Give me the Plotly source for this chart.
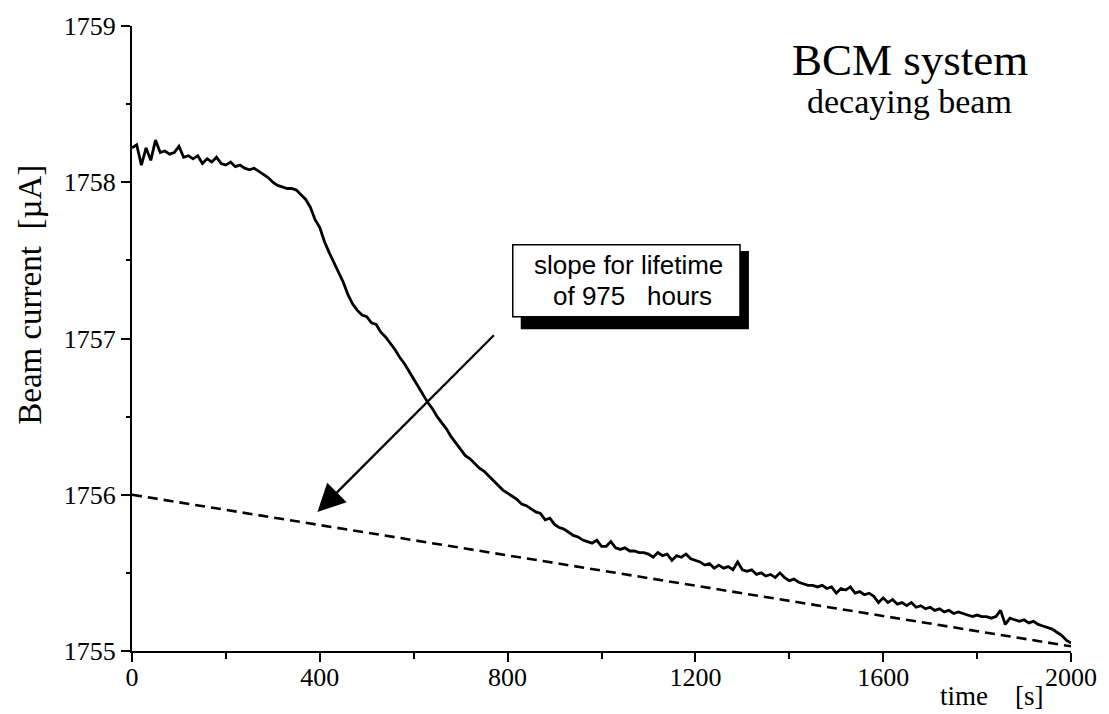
import plotly.graph_objects as go

# ---- data ----
time_s = list(range(0, 2001, 10))
beam_current = [
    1758.22, 1758.24, 1758.11, 1758.22, 1758.14, 1758.27, 1758.19, 1758.20, 1758.18, 1758.19,
    1758.23, 1758.16, 1758.17, 1758.15, 1758.17, 1758.12, 1758.15, 1758.13, 1758.16, 1758.12,
    1758.11, 1758.13, 1758.10, 1758.11, 1758.09, 1758.08, 1758.09, 1758.07, 1758.05, 1758.03,
    1758.00, 1757.98, 1757.97, 1757.96, 1757.96, 1757.95, 1757.92, 1757.89, 1757.84, 1757.76,
    1757.71, 1757.62, 1757.55, 1757.49, 1757.42, 1757.36, 1757.28, 1757.22, 1757.18, 1757.15,
    1757.14, 1757.10, 1757.09, 1757.04, 1757.01, 1756.97, 1756.93, 1756.88, 1756.84, 1756.79,
    1756.74, 1756.69, 1756.64, 1756.59, 1756.55, 1756.50, 1756.46, 1756.42, 1756.37, 1756.33,
    1756.29, 1756.25, 1756.23, 1756.20, 1756.17, 1756.15, 1756.12, 1756.09, 1756.06, 1756.03,
    1756.01, 1755.99, 1755.97, 1755.94, 1755.93, 1755.91, 1755.89, 1755.88, 1755.84, 1755.85,
    1755.81, 1755.79, 1755.78, 1755.76, 1755.74, 1755.73, 1755.71, 1755.70, 1755.69, 1755.71,
    1755.67, 1755.67, 1755.70, 1755.66, 1755.65, 1755.66, 1755.64, 1755.64, 1755.63, 1755.63,
    1755.62, 1755.60, 1755.63, 1755.61, 1755.62, 1755.58, 1755.61, 1755.60, 1755.62, 1755.59,
    1755.58, 1755.57, 1755.55, 1755.56, 1755.53, 1755.55, 1755.53, 1755.54, 1755.52, 1755.57,
    1755.52, 1755.51, 1755.52, 1755.49, 1755.50, 1755.48, 1755.49, 1755.47, 1755.50, 1755.47,
    1755.45, 1755.46, 1755.44, 1755.43, 1755.42, 1755.42, 1755.41, 1755.42, 1755.40, 1755.41,
    1755.37, 1755.40, 1755.39, 1755.41, 1755.37, 1755.38, 1755.36, 1755.37, 1755.35, 1755.31,
    1755.34, 1755.31, 1755.33, 1755.30, 1755.31, 1755.29, 1755.31, 1755.28, 1755.29, 1755.27,
    1755.28, 1755.26, 1755.27, 1755.25, 1755.26, 1755.24, 1755.25, 1755.24, 1755.23, 1755.22,
    1755.23, 1755.22, 1755.22, 1755.21, 1755.22, 1755.26, 1755.17, 1755.21, 1755.20, 1755.19,
    1755.20, 1755.18, 1755.19, 1755.17, 1755.16, 1755.15, 1755.14, 1755.12, 1755.10, 1755.07,
    1755.05,
]
slope_time = [0, 2000]
slope_current = [1756.00, 1755.03]

x_tickvals = [0, 400, 800, 1200, 1600, 2000]
x_ticktext = ["0", "400", "800", "1200", "1600", "2000"]
y_tickvals = [1755, 1756, 1757, 1758, 1759]
y_ticktext = ["1755", "1756", "1757", "1758", "1759"]

SERIF = "Liberation Serif, Times New Roman, serif"
SANS = "Liberation Sans, Arial, sans-serif"

fig = go.Figure()
fig.add_trace(go.Scatter(x=slope_time, y=slope_current, mode="lines",
                         line=dict(color="black", width=2.6, dash="10px,6px"),
                         hoverinfo="skip", showlegend=False))
fig.add_trace(go.Scatter(x=time_s, y=beam_current, mode="lines",
                         line=dict(color="black", width=2.8),
                         showlegend=False))

# shadowed box
fig.add_shape(type="rect", xref="x", yref="y", x0=828, x1=1314, y0=1757.06, y1=1757.56,
              fillcolor="black", line=dict(color="black", width=0), layer="above")
fig.add_shape(type="rect", xref="x", yref="y", x0=811, x1=1295, y0=1757.14, y1=1757.60,
              fillcolor="white", line=dict(color="black", width=1.5), layer="above")

annotations = [
    dict(x=852, y=1757.468, xref="x", yref="y", text="slope for lifetime",
         showarrow=False, xanchor="left", yanchor="middle",
         font=dict(family=SANS, size=26, color="black")),
    dict(x=892, y=1757.272, xref="x", yref="y", text="of 975\u00a0\u00a0 hours",
         showarrow=False, xanchor="left", yanchor="middle",
         font=dict(family=SANS, size=26, color="black")),
    dict(x=395, y=1755.89, xref="x", yref="y", ax=774, ay=1757.03, axref="x", ayref="y",
         text="", showarrow=True, arrowhead=2, arrowsize=2.4, arrowwidth=2.3,
         arrowcolor="black"),
    dict(x=0.8285, y=0.945, xref="paper", yref="paper", text="BCM system",
         showarrow=False, xanchor="center", yanchor="middle",
         font=dict(family=SERIF, size=45, color="black")),
    dict(x=0.8285, y=0.88, xref="paper", yref="paper", text="decaying beam",
         showarrow=False, xanchor="center", yanchor="middle",
         font=dict(family=SERIF, size=34, color="black")),
    dict(x=(1045 - 132) / 939, y=(651 - 696) / 632, xref="paper", yref="paper",
         text="time\u00a0\u00a0\u00a0 [s]",
         showarrow=False, xanchor="right", yanchor="middle",
         font=dict(family=SERIF, size=27, color="black")),
    dict(x=(30 - 132) / 939, y=0.57, xref="paper", yref="paper",
         text="Beam current\u00a0 [\u00b5A]", textangle=-90,
         showarrow=False, xanchor="center", yanchor="middle",
         font=dict(family=SERIF, size=33, color="black")),
]

fig.update_layout(
    width=1109, height=714,
    margin=dict(l=132, r=38, t=19, b=63),
    paper_bgcolor="white", plot_bgcolor="white",
    annotations=annotations,
    showlegend=False,
)
fig.update_xaxes(range=[0, 2000], showgrid=False, zeroline=False,
                 showline=True, linecolor="black", linewidth=2,
                 ticks="outside", ticklen=9, tickwidth=2, tickcolor="black",
                 tickvals=x_tickvals, ticktext=x_ticktext, ticklabelstandoff=-7,
                 tickfont=dict(family=SERIF, size=26, color="black"),
                 minor=dict(dtick=200, tick0=0, ticks="outside", ticklen=6,
                            tickwidth=2, tickcolor="black"))
fig.update_yaxes(range=[1755, 1759], showgrid=False, zeroline=False,
                 showline=True, linecolor="black", linewidth=2,
                 ticks="outside", ticklen=9, tickwidth=2, tickcolor="black",
                 tickvals=y_tickvals, ticktext=y_ticktext,
                 tickfont=dict(family=SERIF, size=26, color="black"),
                 minor=dict(dtick=0.5, tick0=1755, ticks="outside", ticklen=4,
                            tickwidth=1.5, tickcolor="black"))

fig.write_html("out.html")
